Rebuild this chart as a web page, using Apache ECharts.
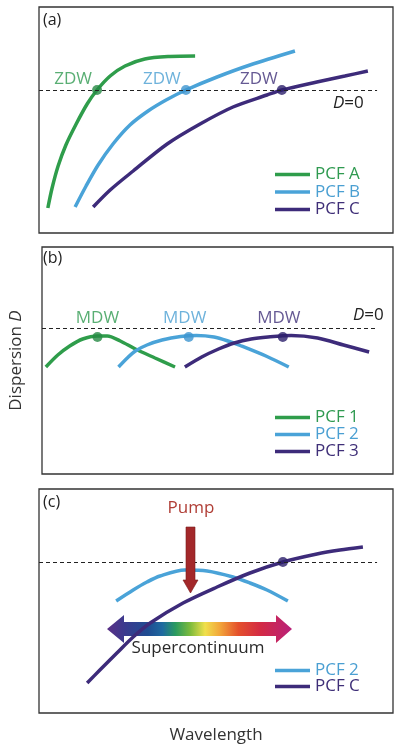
<!DOCTYPE html>
<html><head><meta charset="utf-8">
<script src="https://cdn.jsdelivr.net/npm/echarts@6/dist/echarts.min.js"></script>
<style>html,body{margin:0;padding:0;background:#fff}#c{width:400px;height:746px}</style>
</head><body><div id="c"></div>
<script>
// ---- panel (a): wavelength (0-100, arb.) vs dispersion D (arb.)
const pcfA = [[2.5,-118],[3.7,-98],[5.4,-76],[7.6,-55],[10.5,-34],[13.6,-14],[16.4,0],[20.1,14],[24.3,24],[29.9,31],[37.0,33.5],[44.1,34]];
const pcfB = [[10.2,-117],[13.3,-96],[16.7,-75],[20.9,-54],[25.7,-35],[30.8,-21],[35.9,-10],[41.5,0],[50.3,13],[59.6,25],[72.3,39]];
const pcfC = [[15.3,-117],[20.1,-100],[26.6,-81],[36.2,-54],[45.5,-34],[54.8,-17],[64.4,-5],[68.6,0],[78.5,8],[86.4,14],[92.9,19]];
const zdwA = [16.4,0], zdwB = [41.5,0], zdwC = [68.6,0];
// ---- panel (b)
const pcf1 = [[1.1,-39],[4.5,-27],[7.9,-18],[11.6,-11],[15.8,-8],[18.6,-8],[22.3,-13],[26.6,-21],[32.2,-30],[37.9,-39]];
const pcf2 = [[21.8,-39],[24.3,-30],[26.6,-23],[29.9,-17],[34.2,-12],[39.5,-8.5],[44.0,-7.5],[49.0,-9],[53.0,-13],[56.8,-18],[64.4,-29],[70.3,-39]];
const pcf3 = [[40.7,-39],[45.5,-29],[50.3,-21],[54.8,-15],[59.6,-11],[64.4,-9],[71.0,-7.5],[78.5,-10],[85.9,-17],[93.2,-24]];
const mdw1 = [15.8,-9], mdw2 = [41.8,-9], mdw3 = [68.6,-9];
// ---- panel (c)
const pcf2c = [[21.8,-39],[26.6,-28],[30.5,-20],[34.2,-14],[41.2,-8],[47.5,-9],[54.8,-15],[59.6,-21],[64.4,-28],[70.3,-39]];
const pcfCc = [[13.6,-121],[17.2,-108],[22.0,-91],[26.6,-75],[31.4,-61],[40.7,-41],[50.3,-25],[59.6,-11],[68.9,0],[78.5,8],[85.0,12],[91.5,15]];
const zdwCc = [68.9,0];
const dashEnd = 95.5;
const yRangeA = [-143, 83], yRangeB = [-146, 81], yRangeC = [-151, 73];

const FONT = '"Open Sans", "Noto Sans", sans-serif';
const GREEN = '#2f9d4b', BLUE = '#4aa3d8', PURPLE = '#3d2b7a';
const GREEN_D = '#258a44', BLUE_D = '#3d95cf', PURPLE_D = '#2c1f6c';
const GREEN_T = '#2f9a50', BLUE_T = '#4a9fd2', PURPLE_T = '#3f2f78';

const chart = echarts.init(document.getElementById('c'), null, {renderer: 'canvas'});

function hiddenAxis(extra) {
  return Object.assign({
    type: 'value', axisLine: {show: false}, axisTick: {show: false},
    axisLabel: {show: false}, splitLine: {show: false}
  }, extra);
}
const dashML = {
  silent: true, symbol: ['none', 'none'],
  lineStyle: {type: [4, 3], color: '#222', width: 1},
  label: {show: false},
  data: [[{coord: [0, 0]}, {coord: [dashEnd, 0]}]]
};
function line(name, data, color, gi, withDash) {
  const s = {
    name, type: 'line', data, xAxisIndex: gi, yAxisIndex: gi,
    smooth: 0.3, showSymbol: false, color,
    lineStyle: {width: 3.5, color}, z: 3
  };
  if (withDash) s.markLine = dashML;
  return s;
}
function dot(pt, color, gi, text, tcolor, offset) {
  return {
    type: 'scatter', data: [pt], xAxisIndex: gi, yAxisIndex: gi,
    symbolSize: 10, itemStyle: {color}, z: 4, silent: true,
    label: {show: !!text, formatter: text || '', position: 'inside', offset,
      color: tcolor, fontSize: 17, fontFamily: FONT}
  };
}
function legend(top, gap, items) {
  return {
    orient: 'vertical', left: 270, top, icon: 'rect',
    itemWidth: 35, itemHeight: 3.5, itemGap: gap, itemTextGap: 2,
    textStyle: {fontSize: 17, fontFamily: FONT, lineHeight: 17},
    data: items.map(([n, c]) => ({name: n, textStyle: {color: c}}))
  };
}

const option = {
  animation: false,
  backgroundColor: '#fff',
  grid: [
    {left: 39, top: 7, width: 354, height: 226, show: true, borderColor: '#333', borderWidth: 1.3},
    {left: 39, top: 247, width: 354, height: 227, show: true, borderColor: '#333', borderWidth: 1.3},
    {left: 39, top: 489, width: 354, height: 224, show: true, borderColor: '#333', borderWidth: 1.3}
  ],
  xAxis: [
    hiddenAxis({gridIndex: 0, min: 0, max: 100}),
    hiddenAxis({gridIndex: 1, min: 0, max: 100}),
    hiddenAxis({gridIndex: 2, min: 0, max: 100, name: 'Wavelength', nameLocation: 'middle', nameGap: 14,
      nameTextStyle: {fontSize: 17, fontFamily: FONT, color: '#333'}})
  ],
  yAxis: [
    hiddenAxis({gridIndex: 0, min: yRangeA[0], max: yRangeA[1]}),
    hiddenAxis({gridIndex: 1, min: yRangeB[0], max: yRangeB[1], name: '{n|Dispersion }{i|D}',
      nameLocation: 'middle', nameRotate: 90, nameGap: 17,
      nameTextStyle: {rich: {
        n: {fontSize: 17, fontFamily: FONT, color: '#333'},
        i: {fontSize: 17, fontFamily: FONT, color: '#333', fontStyle: 'italic'}}}}),
    hiddenAxis({gridIndex: 2, min: yRangeC[0], max: yRangeC[1]})
  ],
  legend: [
    legend(161, 0.5, [['PCF A', GREEN_T], ['PCF B', BLUE_T], ['PCF C', PURPLE_T]]),
    legend(404, 0, [['PCF 1', GREEN_T], ['PCF 2', BLUE_T], ['PCF 3', PURPLE_T]]),
    legend(657, -1, [['PCF 2', BLUE_T], ['PCF C', PURPLE_T]])
  ],
  series: [
    line('PCF A', pcfA, GREEN, 0, true),
    line('PCF B', pcfB, BLUE, 0),
    line('PCF C', pcfC, PURPLE, 0),
    dot(zdwA, GREEN_D, 0, 'ZDW', GREEN_T, [-24, -10.5]),
    dot(zdwB, BLUE_D, 0, 'ZDW', BLUE_T, [-24, -10.5]),
    dot(zdwC, PURPLE_D, 0, 'ZDW', PURPLE_T, [-23, -10.5]),
    line('PCF 1', pcf1, GREEN, 1, true),
    line('PCF 2', pcf2, BLUE, 1),
    line('PCF 3', pcf3, PURPLE, 1),
    dot(mdw1, GREEN_D, 1, 'MDW', GREEN_T, [0, -19]),
    dot(mdw2, BLUE_D, 1, 'MDW', BLUE_T, [-4, -19]),
    dot(mdw3, PURPLE_D, 1, 'MDW', PURPLE_T, [-4, -19]),
    line('PCF 2', pcf2c, BLUE, 2, true),
    line('PCF C', pcfCc, PURPLE, 2),
    dot(zdwCc, PURPLE_D, 2, '', PURPLE_T, [0, 0])
  ],
  graphic: [
    {type: 'text', x: 43, y: 20, z: 10, style: {text: '(a)', fontSize: 16, fontFamily: FONT, fill: '#222', verticalAlign: 'middle'}},
    {type: 'text', x: 43, y: 258, z: 10, style: {text: '(b)', fontSize: 16, fontFamily: FONT, fill: '#222', verticalAlign: 'middle'}},
    {type: 'text', x: 43, y: 502, z: 10, style: {text: '(c)', fontSize: 16, fontFamily: FONT, fill: '#222', verticalAlign: 'middle'}},
    {type: 'text', x: 333, y: 103, z: 10, style: {text: '{i|D}=0', fontSize: 17, fontFamily: FONT, fill: '#222', verticalAlign: 'middle',
      rich: {i: {fontSize: 17, fontFamily: FONT, fontStyle: 'italic', fill: '#222'}}}},
    {type: 'text', x: 353, y: 315, z: 10, style: {text: '{i|D}=0', fontSize: 17, fontFamily: FONT, fill: '#222', verticalAlign: 'middle',
      rich: {i: {fontSize: 17, fontFamily: FONT, fontStyle: 'italic', fill: '#222'}}}},
    {type: 'polygon', z: 1, shape: {points: [[107,629],[124,615],[124,622],[276,622],[276,615],[292,629],[276,643],[276,636],[124,636],[124,643]]},
      style: {fill: new echarts.graphic.LinearGradient(0, 0, 1, 0, [
        {offset: 0, color: '#5a2f86'}, {offset: 0.1, color: '#3a3a8e'}, {offset: 0.22, color: '#1f4c92'},
        {offset: 0.3, color: '#1f6aa0'}, {offset: 0.37, color: '#2a9a60'}, {offset: 0.45, color: '#7dbb3c'},
        {offset: 0.53, color: '#f0e04c'}, {offset: 0.61, color: '#f2a63a'}, {offset: 0.71, color: '#e4502c'},
        {offset: 0.83, color: '#d32a44'}, {offset: 1, color: '#b8207a'}])}},
    {type: 'polygon', z: 100, shape: {points: [[186,527],[195,527],[195,580],[198,580],[190.5,593],[183,580],[186,580]]},
      style: {fill: '#a3282a', stroke: '#7a1c1c', lineWidth: 0.6}},
    {type: 'text', x: 191, y: 508, z: 100, style: {text: 'Pump', fontSize: 17, fontFamily: FONT, fill: '#b03e36', align: 'center', verticalAlign: 'middle'}},
    {type: 'text', x: 198, y: 648, z: 100, style: {text: 'Supercontinuum', fontSize: 17, fontFamily: FONT, fill: '#2a2a2a', align: 'center', verticalAlign: 'middle'}}
  ]
};
chart.setOption(option);
</script></body></html>
